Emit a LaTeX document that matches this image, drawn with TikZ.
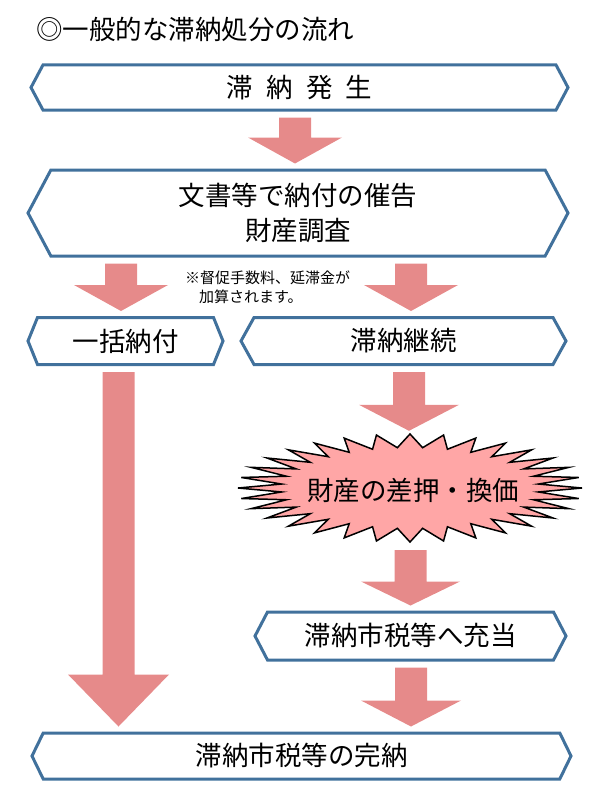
\documentclass[tikz,border=0pt]{standalone}
\usepackage{fontspec}
\setmainfont{Noto Sans CJK JP}
\usepackage{xcolor}
\definecolor{boxblue}{HTML}{41719C}
\definecolor{arrowpink}{HTML}{E68A8A}
\definecolor{burstpink}{HTML}{FFA6A6}
\tikzset{
flowbox/.style = {signal, signal to=east and west, draw=boxblue,
                  line width=3pt, fill=white, inner sep=0pt,
                  font=\fontsize{26.5}{35}\selectfont, align=center},
pinkarrow/.style = {fill=arrowpink},
burstline/.style = {fill=burstpink, draw=black, line width=1.5pt},
notetext/.style = {font=\fontsize{15}{19}\selectfont, align=left, inner sep=0pt}
}
\usetikzlibrary{%
  calc,
  shapes.symbols,
  shapes.geometric
}

\begin{document}
\begin{tikzpicture}[x=1pt,y=-1pt]
  \useasboundingbox (0,0) rectangle (599,800);
  \def\pull#1#2#3#4#5{%
    \fill[pinkarrow] let \p1 = (#2.south), \p2 = (#3.north) in
      (#1pt-16pt,\y1-6pt) -- (#1pt+16pt,\y1-6pt) -- (#1pt+16pt,\y2+5pt+#4pt)
      -- (#1pt+#5pt,\y2+5pt+#4pt) -- (#1pt,\y2+5pt)
      -- (#1pt-#5pt,\y2+5pt+#4pt) -- (#1pt-16pt,\y2+5pt+#4pt) -- cycle;
  }

  \node[anchor=west, inner sep=0pt, font=\fontsize{26.5}{30}\selectfont] (title) at (36,30)
    {◎一般的な滞納処分の流れ};

  \node[flowbox, minimum width=537, minimum height=45, signal pointer angle=124] (b1)
    at (299.5,87.5) {滞\enspace 納\enspace 発\enspace 生};
  \node[flowbox, minimum width=540, minimum height=86, signal pointer angle=124] (b2)
    at (298,213) {文書等で納付の催告\\財産調査};
  \node[flowbox, minimum width=195, minimum height=47, signal pointer angle=136] (b3)
    at (125.5,341) {一括納付};
  \node[flowbox, minimum width=325, minimum height=47, signal pointer angle=122] (b4)
    at (403.5,341) {滞納継続};
  \node[flowbox, minimum width=311, minimum height=48, signal pointer angle=125] (b5)
    at (410.5,636) {滞納市税等へ充当};
  \node[flowbox, minimum width=539, minimum height=46, signal pointer angle=128] (b6)
    at (301.5,756) {滞納市税等の完納};

  \node[notetext, anchor=west] (note) at (185,287.5)
    {※督促手数料、延滞金が\\\hspace*{14pt}加算されます。};

  \draw[burstline] (410,542)
    \foreach \k in {0,...,31}{
      -- ({410+172*cos(\k*11.25+90)},{488+54*sin(\k*11.25+90)})
      -- ({410+129*cos(\k*11.25+95.625)},{488+40.5*sin(\k*11.25+95.625)})
    } -- cycle;
  \node[ellipse, minimum width=344, minimum height=108, inner sep=0pt,
        font=\fontsize{26.5}{30}\selectfont] (burst) at (413,490) {財産の差押・換価};

  \pull{295}{b1}{b2}{26}{47}
  \pull{121}{b2}{b3}{26}{47}
  \pull{411}{b2}{b4}{26}{47}
  \pull{118.5}{b3}{b6}{52}{50.5}
  \pull{409}{b4}{burst}{26}{50}
  \pull{410.5}{burst}{b5}{24}{49.5}
  \pull{411}{b5}{b6}{26}{50}

\end{tikzpicture}
\end{document}
